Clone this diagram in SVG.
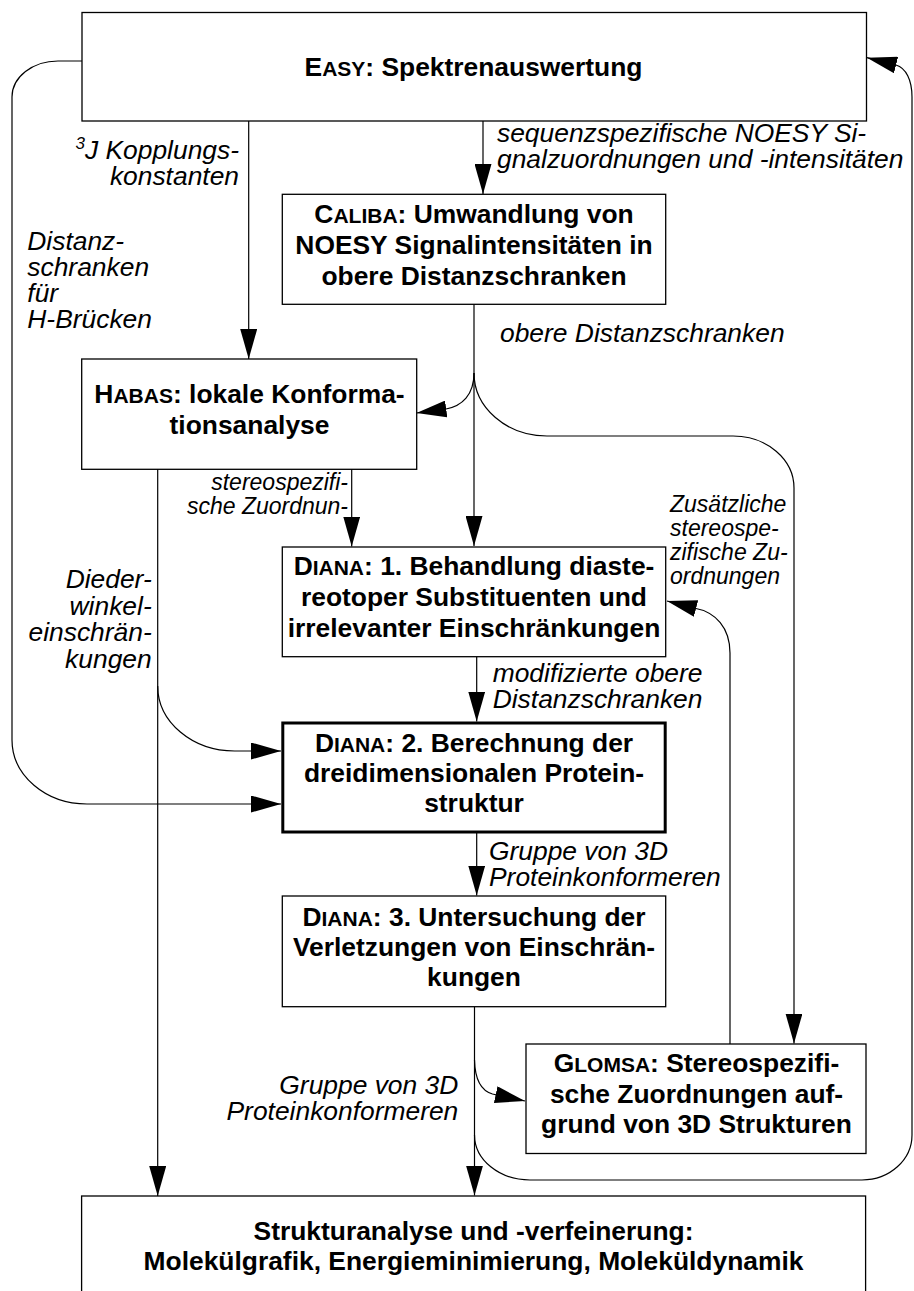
<svg xmlns="http://www.w3.org/2000/svg" width="914" height="1291" viewBox="0 0 914 1291">
<style>
.box{fill:#fff;stroke:#000;stroke-width:1.3}
.thick{stroke-width:3}
.t{font-family:"Liberation Sans",Arial,sans-serif;font-weight:bold;font-size:26.4px;text-anchor:middle;fill:#000}
.sc{font-size:21px}
.l{font-family:"Liberation Sans",Arial,sans-serif;font-style:italic;font-size:26.4px;fill:#000}
.s{font-size:23px}
.e{text-anchor:end}
.c{fill:none;stroke:#000;stroke-width:1.2}
</style>
<defs>
<marker id="ah" markerUnits="userSpaceOnUse" markerWidth="30" markerHeight="17" refX="30" refY="8.5" orient="auto">
<path d="M0,0 L30,8.5 L0,17 z" fill="#000"/>
</marker>
</defs>
<rect width="914" height="1291" fill="#fff"/>
<g id="connectors">
<path class="c" d="M483,121 V194" marker-end="url(#ah)"/>
<path class="c" d="M248.7,121 V359" marker-end="url(#ah)"/>
<path class="c" d="M474,304 V546" marker-end="url(#ah)"/>
<path class="c" d="M474,373 C474,395 462,406 446,409 L416.5,413" marker-end="url(#ah)"/>
<path class="c" d="M474,373 A73,63 0 0 0 547,436 H733 A61,52 0 0 1 794,488 V1043.5" marker-end="url(#ah)"/>
<path class="c" d="M157.7,469 V1196" marker-end="url(#ah)"/>
<path class="c" d="M157.7,686 A77,65 0 0 0 235,751 H281" marker-end="url(#ah)"/>
<path class="c" d="M351.7,469 V546.5" marker-end="url(#ah)"/>
<path class="c" d="M82,61 H58 A46,36 0 0 0 12,97 V740 A75,64 0 0 0 87,804 H281" marker-end="url(#ah)"/>
<path class="c" d="M476.7,657 V721.5" marker-end="url(#ah)"/>
<path class="c" d="M476.7,833 V895.5" marker-end="url(#ah)"/>
<path class="c" d="M474.5,1007 V1195.5" marker-end="url(#ah)"/>
<path class="c" d="M474.5,1060 C475,1080 482,1091 492.5,1094 L525,1101" marker-end="url(#ah)"/>
<path class="c" d="M730,1044 V653 C730,628 716,612 694,608 L667,601" marker-end="url(#ah)"/>
<path class="c" d="M474.5,1135 A55.5,45 0 0 0 530,1180 H862 A50,45 0 0 0 912,1135 V97 C912,80 906,68 896,65 L867,57.7" marker-end="url(#ah)"/>
</g>
<g id="easy">
<rect class="box" x="82" y="12.5" width="784.5" height="108.5"/>
<text class="t" x="473.5" y="75.5">E<tspan class="sc">ASY</tspan>: Spektrenauswertung</text>
</g>
<g id="caliba">
<rect class="box" x="282.3" y="194.3" width="383.4" height="110"/>
<text class="t" x="474" y="223.3">C<tspan class="sc">ALIBA</tspan>: Umwandlung von</text>
<text class="t" x="474" y="254">NOESY Signalintensitäten in</text>
<text class="t" x="474" y="284.5">obere Distanzschranken</text>
</g>
<g id="habas">
<rect class="box" x="81.7" y="359" width="335" height="110.3"/>
<text class="t" x="249.5" y="403">H<tspan class="sc">ABAS</tspan>: lokale Konforma-</text>
<text class="t" x="249.5" y="434">tionsanalyse</text>
</g>
<g id="diana1">
<rect class="box" x="282.3" y="547" width="383.4" height="109.7"/>
<text class="t" x="474" y="575">D<tspan class="sc">IANA</tspan>: 1. Behandlung diaste-</text>
<text class="t" x="474" y="606">reotoper Substituenten und</text>
<text class="t" x="474" y="636.7">irrelevanter Einschränkungen</text>
</g>
<g id="diana2">
<rect class="box thick" x="282.8" y="723" width="382.4" height="109"/>
<text class="t" x="474" y="751.7">D<tspan class="sc">IANA</tspan>: 2. Berechnung der</text>
<text class="t" x="474" y="781.7">dreidimensionalen Protein-</text>
<text class="t" x="474" y="812.3">struktur</text>
</g>
<g id="diana3">
<rect class="box" x="282.3" y="896" width="383.4" height="110.7"/>
<text class="t" x="474" y="925.7">D<tspan class="sc">IANA</tspan>: 3. Untersuchung der</text>
<text class="t" x="474" y="955.7">Verletzungen von Einschrän-</text>
<text class="t" x="474" y="986">kungen</text>
</g>
<g id="glomsa">
<rect class="box" x="526" y="1044" width="340" height="109.5"/>
<text class="t" x="696.5" y="1072">G<tspan class="sc">LOMSA</tspan>: Stereospezifi-</text>
<text class="t" x="696.5" y="1102.5">sche Zuordnungen auf-</text>
<text class="t" x="696.5" y="1133">grund von 3D Strukturen</text>
</g>
<g id="analyse">
<rect class="box" x="81.6" y="1196" width="784" height="120"/>
<text class="t" x="473.5" y="1240">Strukturanalyse und -verfeinerung:</text>
<text class="t" x="473.5" y="1270">Molekülgrafik, Energieminimierung, Moleküldynamik</text>
</g>
<g id="labels">
<text class="l e" x="239" y="159"><tspan font-size="17" dy="-10">3</tspan><tspan dy="10">J Kopplungs-</tspan></text>
<text class="l e" x="239" y="185">konstanten</text>
<text class="l" x="497" y="141.7">sequenzspezifische NOESY Si-</text>
<text class="l" x="497" y="168.3">gnalzuordnungen und -intensitäten</text>
<text class="l" x="27.3" y="250">Distanz-</text>
<text class="l" x="27.3" y="276">schranken</text>
<text class="l" x="27.3" y="302">für</text>
<text class="l" x="27.3" y="328">H-Brücken</text>
<text class="l" x="500" y="342">obere Distanzschranken</text>
<text class="l s e" x="348" y="490">stereospezifi-</text>
<text class="l s e" x="348" y="514">sche Zuordnun-</text>
<text class="l s" x="670" y="511.7">Zusätzliche</text>
<text class="l s" x="670" y="536">stereospe-</text>
<text class="l s" x="670" y="560">zifische Zu-</text>
<text class="l s" x="670" y="583.5">ordnungen</text>
<text class="l e" x="151.7" y="588">Dieder-</text>
<text class="l e" x="151.7" y="614.5">winkel-</text>
<text class="l e" x="151.7" y="641">einschrän-</text>
<text class="l e" x="151.7" y="667.5">kungen</text>
<text class="l" x="492.7" y="682">modifizierte obere</text>
<text class="l" x="492.7" y="708">Distanzschranken</text>
<text class="l" x="489" y="860">Gruppe von 3D</text>
<text class="l" x="489" y="886">Proteinkonformeren</text>
<text class="l e" x="458.3" y="1094">Gruppe von 3D</text>
<text class="l e" x="458.3" y="1120">Proteinkonformeren</text>
</g>
</svg>
